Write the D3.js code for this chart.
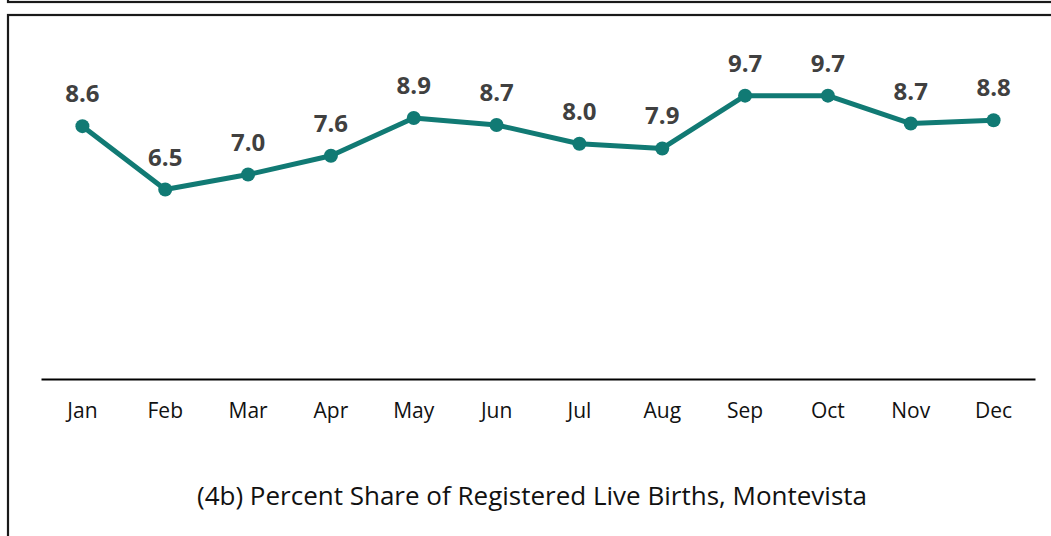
<!DOCTYPE html>
<html>
<head>
<meta charset="utf-8">
<script src="https://cdn.jsdelivr.net/npm/d3@7"></script>
<style>
  body { margin: 0; background: #fff; }
  svg { display: block; }
</style>
</head>
<body>
<svg id="chart" width="1051" height="536"></svg>
<script>
// data
var months = ["Jan", "Feb", "Mar", "Apr", "May", "Jun", "Jul", "Aug", "Sep", "Oct", "Nov", "Dec"];
var shares = [8.62, 6.46, 6.97, 7.61, 8.9, 8.66, 8.02, 7.86, 9.66, 9.66, 8.71, 8.82];
var chartTitle = "(4b) Percent Share of Registered Live Births, Montevista";

var svg = d3.select("svg#chart");
var lineColor = "#117a74";

// frames (edge of the box above + this chart's box)
svg.append("rect")
    .attr("x", 8).attr("y", -60)
    .attr("width", 1100).attr("height", 62)
    .attr("fill", "none").attr("stroke", "#1a1a1a").attr("stroke-width", 2.2);

svg.append("rect")
    .attr("x", 8).attr("y", 15)
    .attr("width", 1100).attr("height", 600)
    .attr("fill", "none").attr("stroke", "#1a1a1a").attr("stroke-width", 2.2);

var x = d3.scaleBand().domain(months).range([41, 1035]),
    y = d3.scaleLinear().domain([0, 12]).range([379, 27]);

var g = svg.append("g");

// x axis
var xAxis = g.append("g")
    .attr("transform", "translate(0,379)")
    .call(d3.axisBottom(x).tickSize(0).tickPadding(24));

xAxis.select("path.domain")
    .attr("stroke", "#000").attr("stroke-width", 2);

xAxis.selectAll("text")
    .style("font-family", "'Open Sans', sans-serif")
    .style("font-size", "21px")
    .attr("fill", "#111");

var cx = function (d, i) { return x(months[i]) + x.bandwidth() / 2; };

var line = d3.line()
    .x(function (d, i) { return cx(d, i); })
    .y(function (d) { return y(d); });

g.append("path")
    .datum(shares)
    .attr("fill", "none")
    .attr("stroke", lineColor)
    .attr("stroke-width", 5)
    .attr("stroke-linejoin", "round")
    .attr("d", line);

g.selectAll(".dot")
    .data(shares)
    .enter()
    .append("circle")
    .attr("class", "dot")
    .attr("cx", cx)
    .attr("cy", function (d) { return y(d); })
    .attr("r", 7)
    .attr("fill", lineColor);

g.selectAll(".lbl")
    .data(shares)
    .enter()
    .append("text")
    .attr("class", "lbl")
    .attr("x", cx)
    .attr("y", function (d) { return y(d) - 24; })
    .attr("text-anchor", "middle")
    .style("font-family", "'Open Sans', sans-serif")
    .style("font-weight", "bold")
    .style("font-size", "24px")
    .attr("fill", "#404040")
    .text(function (d) { return d.toFixed(1); });

svg.append("text")
    .attr("x", 532)
    .attr("y", 505)
    .attr("text-anchor", "middle")
    .style("font-family", "'Open Sans', sans-serif")
    .style("font-size", "26px")
    .attr("fill", "#111")
    .text(chartTitle);
</script>
</body>
</html>
